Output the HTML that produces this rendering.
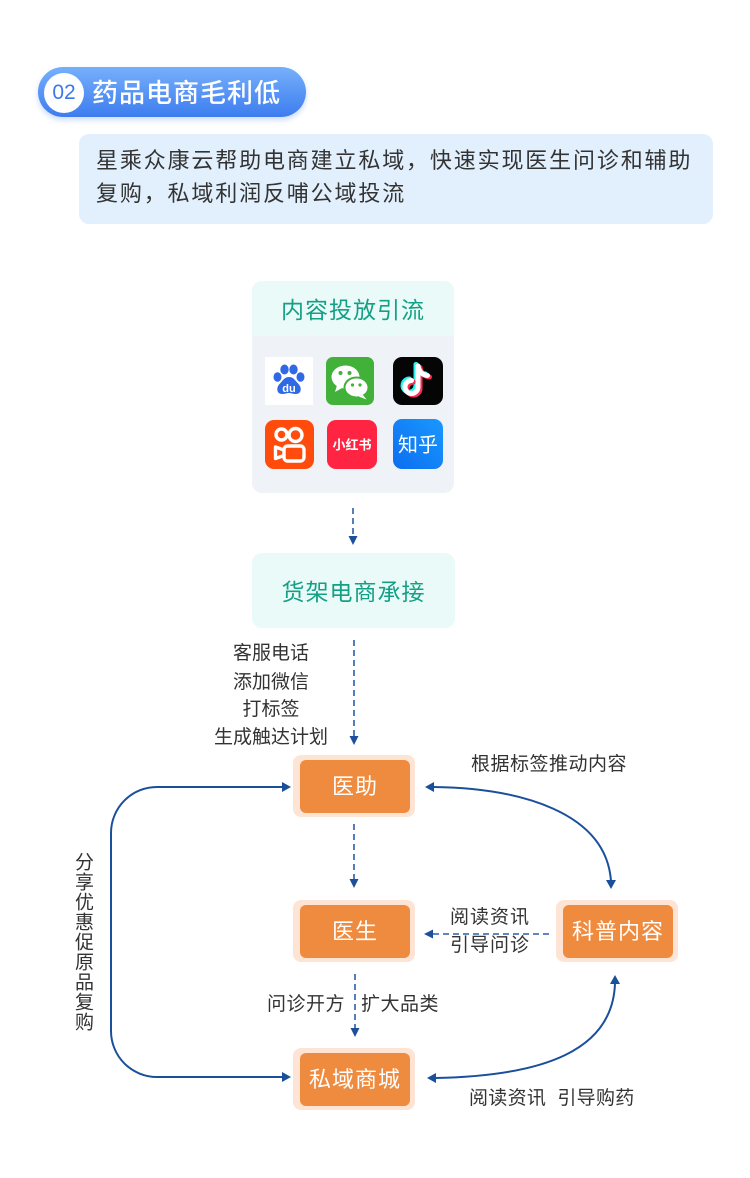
<!DOCTYPE html>
<html><head><meta charset="utf-8">
<style>
*{margin:0;padding:0;box-sizing:border-box}
html,body{width:750px;height:1178px;background:#fff;overflow:hidden}
body{position:relative;font-family:"Liberation Sans","Noto Sans CJK SC",sans-serif;color:#333}
.abs{position:absolute}
.pill{left:38px;top:67px;width:268px;height:50px;border-radius:25px;background:linear-gradient(180deg,#76b0fb 0%,#3d7cef 100%);box-shadow:0 3px 6px rgba(70,130,240,.28)}
.circ{left:44px;top:73px;width:40px;height:40px;border-radius:50%;background:#fff;color:#3b78e9;font-size:21px;line-height:40px;text-align:center;font-family:"Liberation Sans",sans-serif}
.ttl{left:92px;top:74px;height:38px;line-height:38px;font-size:26px;color:#fff;letter-spacing:1px;white-space:nowrap;font-weight:500}
.desc{left:79px;top:134px;width:634px;height:90px;border-radius:10px;background:#e2f0fd}
.desc p{position:absolute;left:17px;font-size:22px;letter-spacing:1.85px;line-height:33px;white-space:nowrap;color:#333}
.card1{left:252px;top:281px;width:202px;height:212px;border-radius:10px;background:#eff3f7;overflow:hidden}
.card1 .hd{height:55px;background:#e9faf8;color:#14a085;font-size:23px;line-height:58px;text-align:center;letter-spacing:1px}
.card2{left:252px;top:553px;width:203px;height:75px;border-radius:10px;background:#e9faf8;color:#14a085;font-size:23px;line-height:78px;text-align:center;letter-spacing:1px}
.node{width:122px;height:62px;border-radius:8px;background:#fde4d4}
.node div{position:absolute;left:7px;top:5px;right:5px;bottom:4px;border-radius:6px;background:#ef8b3f;color:#fff;font-size:22px;line-height:53px;text-align:center;letter-spacing:1px;white-space:nowrap}
.lbl{font-size:19px;color:#333;white-space:nowrap;line-height:24px}
.ic{position:absolute;width:48px;height:48px}
</style></head><body>

<div class="abs pill"></div>
<div class="abs circ">02</div>
<div class="abs ttl">药品电商毛利低</div>

<div class="abs desc">
<p style="top:10px">星乘众康云帮助电商建立私域，快速实现医生问诊和辅助</p>
<p style="top:43px">复购，私域利润反哺公域投流</p>
</div>

<div class="abs card1"><div class="hd">内容投放引流</div></div>

<!-- icons -->
<svg class="ic" style="left:265px;top:357px" viewBox="0 0 48 48">
<rect width="48" height="48" fill="#fff"/>
<g fill="#3069e6">
<ellipse cx="12.5" cy="20" rx="4" ry="4.8"/>
<ellipse cx="19.5" cy="12.5" rx="4.2" ry="5"/>
<ellipse cx="28.5" cy="12.5" rx="4.2" ry="5"/>
<ellipse cx="35.5" cy="20" rx="4" ry="4.8"/>
<path d="M24 20c-4.5 0-6.5 4-9.5 7-3.5 3.5-3 10 2.5 10 3 0 5-1 7-1s4 1 7 1c5.5 0 6-6.5 2.5-10-3-3-5-7-9.5-7z"/>
</g>
<text x="24" y="35" text-anchor="middle" font-size="11" font-weight="bold" fill="#fff" font-family="Liberation Sans,sans-serif">du</text>
</svg>

<svg class="ic" style="left:326px;top:357px" viewBox="0 0 48 48">
<rect width="48" height="48" rx="7" fill="#41b13a"/>
<ellipse cx="19.5" cy="20" rx="14" ry="11.5" fill="#fff"/>
<path d="M11 28l-2 7 8-4.5z" fill="#fff"/>
<ellipse cx="30.5" cy="30.5" rx="12" ry="10" fill="#fff" stroke="#41b13a" stroke-width="2"/>
<path d="M37 38l3.5 4.5-8-3z" fill="#fff"/>
<circle cx="14.5" cy="16" r="2" fill="#41b13a"/><circle cx="23.5" cy="16" r="2" fill="#41b13a"/>
<circle cx="26.5" cy="28" r="1.6" fill="#41b13a"/><circle cx="34" cy="28" r="1.6" fill="#41b13a"/>
</svg>

<svg class="ic" style="left:393px;top:357px;width:50px" viewBox="0 0 50 48">
<rect width="50" height="48" rx="9" fill="#050505"/>
<g fill="none" stroke-width="5" stroke-linecap="round">
<path d="M25 9v21a6.5 6.5 0 1 1-6.5-6.5" stroke="#25f4ee" transform="translate(-2,-1.5)"/>
<path d="M25 9c1 5.5 4.5 9 9.5 9.5" stroke="#25f4ee" transform="translate(-2,-1.5)"/>
<path d="M25 9v21a6.5 6.5 0 1 1-6.5-6.5" stroke="#fe2c55" transform="translate(2,1.5)"/>
<path d="M25 9c1 5.5 4.5 9 9.5 9.5" stroke="#fe2c55" transform="translate(2,1.5)"/>
<path d="M25 9v21a6.5 6.5 0 1 1-6.5-6.5" stroke="#fff"/>
<path d="M25 9c1 5.5 4.5 9 9.5 9.5" stroke="#fff"/>
</g>
</svg>

<svg class="ic" style="left:265px;top:420px;width:49px;height:49px" viewBox="0 0 49 49">
<rect width="49" height="49" rx="9" fill="#ff4b0b"/>
<g fill="none" stroke="#fff" stroke-width="3.4" stroke-linejoin="round">
<circle cx="16.5" cy="14.5" r="5.5"/>
<circle cx="30.5" cy="15" r="6.5"/>
<rect x="19" y="26" width="20" height="15" rx="3.5"/>
<path d="M19 30l-8.5-3v11.5l8.5-3"/>
</g>
</svg>

<svg class="ic" style="left:327px;top:420px;width:50px;height:49px" viewBox="0 0 50 49">
<rect width="50" height="49" rx="9" fill="#ff2442"/>
<text x="25" y="29.5" text-anchor="middle" font-size="13" font-weight="bold" fill="#fff" font-family="Noto Sans CJK SC,sans-serif">小红书</text>
</svg>

<svg class="ic" style="left:393px;top:419px;width:50px;height:50px" viewBox="0 0 50 50">
<defs><linearGradient id="zg" x1="0" y1="1" x2="1" y2="0"><stop offset="0" stop-color="#0b6ef0"/><stop offset="1" stop-color="#1a98ff"/></linearGradient></defs>
<rect width="50" height="50" rx="9" fill="url(#zg)"/>
<text x="25" y="32.5" text-anchor="middle" font-size="20" fill="#fff" font-family="Noto Sans CJK SC,sans-serif">知乎</text>
</svg>

<div class="abs card2">货架电商承接</div>

<div class="abs node" style="left:293px;top:755px"><div>医助</div></div>
<div class="abs node" style="left:293px;top:900px"><div>医生</div></div>
<div class="abs node" style="left:293px;top:1048px"><div>私域商城</div></div>
<div class="abs node" style="left:556px;top:900px"><div>科普内容</div></div>

<!-- labels -->
<div class="abs lbl" style="left:211px;top:642px;width:120px;text-align:center">客服电话</div>
<div class="abs lbl" style="left:211px;top:671px;width:120px;text-align:center">添加微信</div>
<div class="abs lbl" style="left:211px;top:698px;width:120px;text-align:center">打标签</div>
<div class="abs lbl" style="left:211px;top:726px;width:120px;text-align:center">生成触达计划</div>
<div class="abs lbl" style="left:468px;top:753px;width:162px;text-align:center;letter-spacing:.5px">根据标签推动内容</div>
<div class="abs lbl" style="left:440px;top:906px;width:100px;text-align:center;letter-spacing:1px">阅读资讯</div>
<div class="abs lbl" style="left:440px;top:934px;width:100px;text-align:center;letter-spacing:1px">引导问诊</div>
<div class="abs lbl" style="left:267px;top:993px;letter-spacing:.5px">问诊开方</div>
<div class="abs lbl" style="left:361px;top:993px;letter-spacing:.5px">扩大品类</div>
<div class="abs lbl" style="left:469px;top:1087px;letter-spacing:.3px">阅读资讯&nbsp;&nbsp;引导购药</div>
<div class="abs lbl" style="left:71px;top:852px;writing-mode:vertical-rl;letter-spacing:1px;line-height:22px">分享优惠促原品复购</div>

<svg class="abs" style="left:0;top:0" width="750" height="1178" viewBox="0 0 750 1178">
<g fill="none" stroke="#2b5fa8" stroke-width="1.6" stroke-dasharray="6 4">
<line x1="353" y1="508" x2="353" y2="537"/>
<line x1="354" y1="640" x2="354" y2="737"/>
<line x1="354" y1="824" x2="354" y2="880"/>
<line x1="355" y1="974" x2="355" y2="1029"/>
<line x1="549" y1="934" x2="432" y2="934"/>
</g>
<g fill="#1e4f9a">
<polygon points="353,545 348.5,536 357.5,536"/>
<polygon points="354,745 349.5,736 358.5,736"/>
<polygon points="354,888 349.5,879 358.5,879"/>
<polygon points="355,1037 350.5,1028 359.5,1028"/>
<polygon points="424,934 433,929.5 433,938.5"/>
</g>
<g fill="none" stroke="#1a4f9c" stroke-width="2">
<path d="M283 787 H157 A46 46 0 0 0 111 833 V1031 A46 46 0 0 0 157 1077 H283"/>
<path d="M433 787 C520 788 606 812 611 881"/>
<path d="M435 1078 C545 1076 613 1050 615 983"/>
</g>
<g fill="#1a4f9c">
<polygon points="291,787 282,782 282,792"/>
<polygon points="291,1077 282,1072 282,1082"/>
<polygon points="425,787 434,782 434,792"/>
<polygon points="611,889 606,880 616,880"/>
<polygon points="427,1078 436,1073 436,1083"/>
<polygon points="615,975 610,984 620,984"/>
</g>
</svg>

</body></html>
